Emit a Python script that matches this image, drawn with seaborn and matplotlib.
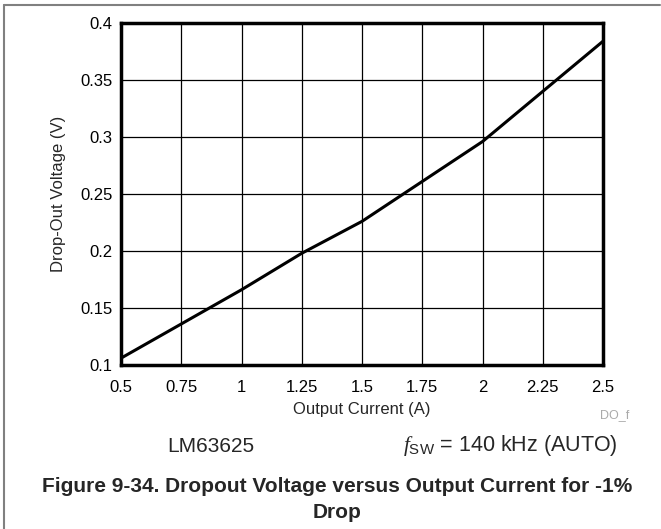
import matplotlib
matplotlib.use("Agg")
import matplotlib.pyplot as plt
from matplotlib.lines import Line2D
import numpy as np
import pandas as pd
import seaborn as sns

# values
current_a = [0.5, 0.75, 1.0, 1.25, 1.5, 1.75, 2.0, 2.25, 2.5]
dropout_v = [0.106, 0.136, 0.166, 0.198, 0.226, 0.261, 0.296, 0.340, 0.384]
x_ticks = [0.5, 0.75, 1, 1.25, 1.5, 1.75, 2, 2.25, 2.5]
x_tick_labels = ["0.5", "0.75", "1", "1.25", "1.5", "1.75", "2", "2.25", "2.5"]
y_ticks = [0.1, 0.15, 0.2, 0.25, 0.3, 0.35, 0.4]
y_tick_labels = ["0.1", "0.15", "0.2", "0.25", "0.3", "0.35", "0.4"]

sns.set_style("white")
plt.rcParams["font.family"] = ["Liberation Sans", "DejaVu Sans"]
plt.rcParams["mathtext.fontset"] = "custom"
plt.rcParams["mathtext.rm"] = "Liberation Sans"
plt.rcParams["mathtext.it"] = "Liberation Serif:italic"

df = pd.DataFrame({"current": current_a, "voltage": dropout_v})

fig = plt.figure(figsize=(6.61, 5.29), dpi=100)
ax = fig.add_axes([121 / 661, 1 - 365 / 529, (603 - 121) / 661, (365 - 23) / 529])

sns.lineplot(data=df, x="current", y="voltage", color="black", linewidth=2.2, ax=ax)

ax.set_xlim(0.5, 2.5)
ax.set_ylim(0.1, 0.4)
ax.set_xticks(x_ticks)
ax.set_xticklabels(x_tick_labels)
ax.set_yticks(y_ticks)
ax.set_yticklabels(y_tick_labels)
ax.tick_params(axis="both", length=0, labelsize=12, colors="black")
ax.tick_params(axis="x", pad=11)
ax.tick_params(axis="y", pad=6)
ax.grid(True, color="black", linewidth=0.9)
ax.set_axisbelow(True)
for sp in ax.spines.values():
    sp.set_visible(True)
    sp.set_color("black")
    sp.set_linewidth(2.5)

ax.set_xlabel("Output Current (A)", fontsize=12, labelpad=5)
ax.set_ylabel("Drop-Out Voltage (V)", fontsize=12, labelpad=10)

fig.text(615 / 661, 1 - 415 / 529, "DO_f", fontsize=9, color="#aaaaaa",
         ha="center", va="center")
fig.text(167 / 661, 1 - 446 / 529, "LM63625", fontsize=15, ha="left", va="center")
fig.text(403 / 661, 1 - 446 / 529, r"$f_{\mathrm{SW}}$ = 140 kHz (AUTO)",
         fontsize=15.5, ha="left", va="center")
fig.text(337 / 661, 1 - 487 / 529,
         "Figure 9-34. Dropout Voltage versus Output Current for -1%",
         fontsize=15, fontweight="bold", ha="center", va="center")
fig.text(337 / 661, 1 - 512 / 529, "Drop", fontsize=15, fontweight="bold",
         ha="center", va="center")

# page frame lines
fig.add_artist(Line2D([4 / 661, 4 / 661], [0, 1 - 5 / 529], transform=fig.transFigure,
                      color="#808080", linewidth=1.5))
fig.add_artist(Line2D([4 / 661, 660 / 661], [1 - 5 / 529, 1 - 5 / 529],
                      transform=fig.transFigure, color="#808080", linewidth=1.5))

fig.savefig("out.png", dpi=100)
